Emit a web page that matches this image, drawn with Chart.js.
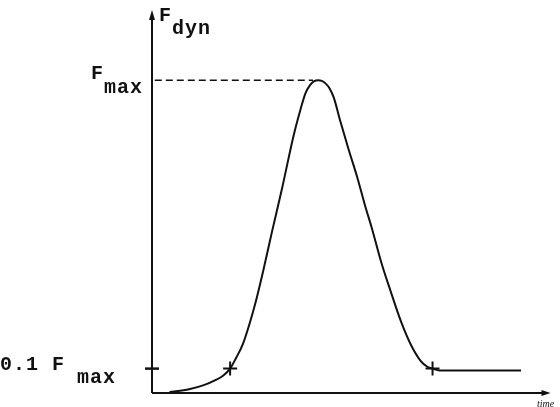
<!DOCTYPE html>
<html>
<head>
<meta charset="utf-8">
<script src="https://cdn.jsdelivr.net/npm/chart.js@4/dist/chart.umd.min.js"></script>
<style>
  html, body { margin: 0; padding: 0; background: #fff; }
  #wrap { width: 560px; height: 407px; }
</style>
</head>
<body>
<div id="wrap"><canvas id="forceChart"></canvas></div>
<script>
// time axis (arbitrary units) and dynamic force as a fraction of F_max
const timeVals = [4.4, 9.3, 13.0, 15.9, 17.9, 19.6, 21.1, 22.8, 24.5, 26.0, 27.9, 30.1, 32.6, 35.5, 37.3, 38.5, 39.7, 40.7,
                  41.7, 42.6, 43.6, 44.6, 45.6, 47.3, 49.3, 51.5, 53.4, 55.1, 57.6, 60.0, 62.5, 64.9, 67.4, 69.1, 70.6, 72.1, 92.6];
const forceVals = [0.003, 0.012, 0.025, 0.041, 0.056, 0.078, 0.112, 0.156, 0.222, 0.29, 0.39, 0.515, 0.652, 0.821, 0.908, 0.958, 0.985, 0.997,
                   1.0, 0.998, 0.989, 0.973, 0.945, 0.867, 0.78, 0.69, 0.602, 0.53, 0.415, 0.321, 0.228, 0.156, 0.103, 0.084, 0.077, 0.072, 0.072];

// threshold level (0.1 F_max) and the points where the curve crosses it
const threshold = 0.078;
const crossTimes = [19.6, 70.4];
const peakTime = 41.7;

const ink = '#111';
const mono = '"Liberation Mono", "DejaVu Sans Mono", monospace';

const curve = timeVals.map((t, i) => ({ x: t, y: forceVals[i] }));

// axes with arrows and the typed labels
const axesPlugin = {
    id: 'axesPlugin',
    afterDraw(chart) {
        const c = chart.ctx;
        const a = chart.chartArea;
        c.save();
        c.strokeStyle = ink;
        c.fillStyle = ink;
        c.lineWidth = 2;
        // y axis
        c.beginPath();
        c.moveTo(a.left, a.bottom);
        c.lineTo(a.left, 14);
        c.stroke();
        c.beginPath();
        c.moveTo(a.left, 10);
        c.lineTo(a.left - 3, 20);
        c.lineTo(a.left + 3, 20);
        c.closePath();
        c.fill();
        // x axis
        c.beginPath();
        c.moveTo(a.left, a.bottom);
        c.lineTo(a.right - 4, a.bottom);
        c.stroke();
        c.beginPath();
        c.moveTo(a.right, a.bottom);
        c.lineTo(a.right - 9, a.bottom - 3);
        c.lineTo(a.right - 9, a.bottom + 3);
        c.closePath();
        c.fill();

        // labels
        c.font = 'bold 20px ' + mono;
        c.letterSpacing = '1px';
        c.textBaseline = 'alphabetic';
        c.textAlign = 'left';
        c.fillText('F', 159, 21);
        c.fillText('dyn', 172, 34);

        c.fillText('F', 91, 79);
        c.fillText('max', 104, 93);

        c.fillText('0.1 F', 0, 370);
        c.fillText('max', 77, 383);

        c.letterSpacing = '0px';
        c.font = 'italic 10px "Liberation Serif", serif';
        c.fillText('time', 537, 407);
        c.restore();
    }
};

new Chart(document.getElementById('forceChart').getContext('2d'), {
    type: 'line',
    data: {
        datasets: [
            {
                data: curve,
                borderColor: ink,
                borderWidth: 2,
                pointRadius: 0,
                cubicInterpolationMode: 'monotone'
            },
            {
                // dashed guide at F_max
                data: [{ x: 0.7, y: 1.0 }, { x: peakTime - 1.3, y: 1.0 }],
                borderColor: ink,
                borderWidth: 1.5,
                borderDash: [7, 4],
                pointRadius: 0
            },
            {
                // cross marks on the curve at 0.1 F_max
                type: 'scatter',
                data: crossTimes.map(t => ({ x: t, y: threshold })),
                pointStyle: 'cross',
                pointRadius: 7,
                borderColor: ink,
                borderWidth: 2
            },
            {
                // tick on the force axis
                type: 'scatter',
                data: [{ x: 0, y: threshold }],
                pointStyle: 'line',
                pointRadius: 7,
                borderColor: ink,
                borderWidth: 2.5,
                clip: false
            }
        ]
    },
    options: {
        responsive: true,
        maintainAspectRatio: false,
        animation: false,
        layout: { padding: { left: 152, right: 0, top: 0, bottom: 14 } },
        scales: {
            x: { type: 'linear', min: 0, max: 100, display: false },
            y: { min: 0, max: 1.226, display: false }
        },
        plugins: {
            legend: { display: false },
            tooltip: { enabled: false }
        }
    },
    plugins: [axesPlugin]
});
</script>
</body>
</html>
